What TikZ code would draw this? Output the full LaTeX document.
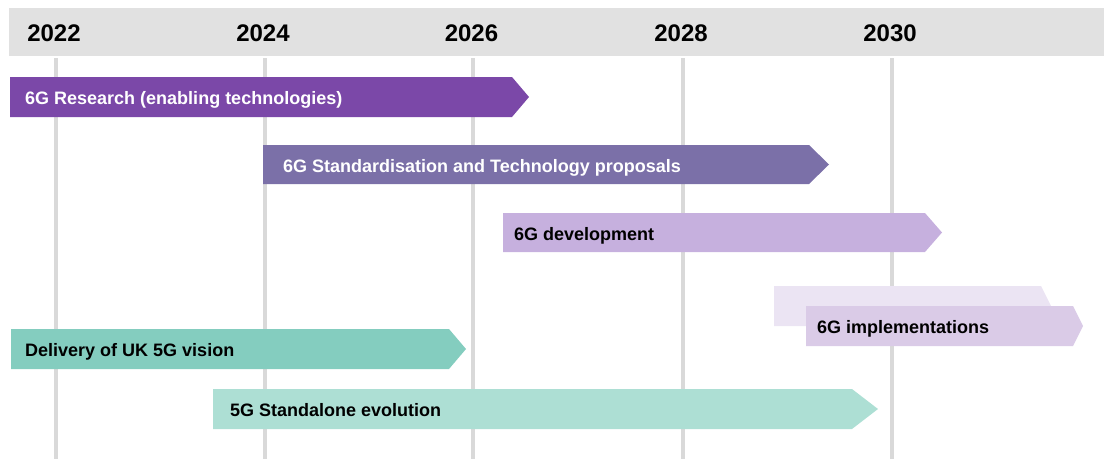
\documentclass[tikz,border=0pt]{standalone}
\usepackage{fontspec}
\setmainfont{Liberation Sans}
\definecolor{headgray}{HTML}{E1E1E1}
\definecolor{gridgray}{HTML}{D9D9D9}
\definecolor{research}{HTML}{7B48A8}
\definecolor{standard}{HTML}{7B70A8}
\definecolor{develop}{HTML}{C6B0DE}
\definecolor{implback}{HTML}{EBE4F3}
\definecolor{impl}{HTML}{DACBE7}
\definecolor{delivery}{HTML}{84CDBF}
\definecolor{standalone}{HTML}{ADDFD4}
\begin{document}
\begin{tikzpicture}[x=1pt,y=-1pt,
  year/.style={anchor=base, font=\bfseries\fontsize{24}{24}\selectfont, text=black, inner sep=0pt},
  barlabel/.style={anchor=base west, font=\bfseries\fontsize{18}{18}\selectfont, inner sep=0pt},
  gridline/.style={draw=gridgray, line width=4pt}]
\useasboundingbox (0,0) rectangle (1106,459);

% header band with the years and the year gridlines
\fill[headgray] (9,8) rectangle (1104,56);
\foreach \x/\yr in {55.5/2022, 264.5/2024, 473/2026, 682.5/2028, 891.5/2030} {
  \node[year] (y\yr) at (\x-1.5,41.5) {\yr};
  \coordinate (top\yr) at (\x,58);
  \coordinate (bot\yr) at (\x,459);
  \draw[gridline] (top\yr) -- (bot\yr);
}

% phase bars: rectangle with a pointed right end
\fill[research] (10,77) -- (512,77) -- (529,97) -- (512,117) -- (10,117) -- cycle;
\node[barlabel, text=white] (res) at (25,104.5) {6G Research (enabling technologies)};

\fill[standard] (263,145) -- (809,145) -- (829,164.5) -- (809,184) -- (263,184) -- cycle;
\node[barlabel, text=white] (std) at (283,172) {6G Standardisation and Technology proposals};

\fill[develop] (503,213) -- (925,213) -- (942,232.5) -- (925,252) -- (503,252) -- cycle;
\node[barlabel, text=black] (dev) at (514,240) {6G development};

\fill[implback] (774,286) -- (1041,286) -- (1051,306) -- (1041,326) -- (774,326) -- cycle;
\fill[impl] (806,306) -- (1073,306) -- (1083,326) -- (1073,346) -- (806,346) -- cycle;
\node[barlabel, text=black] (imp) at (817,333.5) {6G implementations};

\fill[delivery] (11,329) -- (449,329) -- (466,349) -- (449,369) -- (11,369) -- cycle;
\node[barlabel, text=black] (del) at (25,356.5) {Delivery of UK 5G vision};

\fill[standalone] (213,389) -- (852,389) -- (878,409) -- (852,429) -- (213,429) -- cycle;
\node[barlabel, text=black] (sa) at (230,416.5) {5G Standalone evolution};
\end{tikzpicture}
\end{document}
